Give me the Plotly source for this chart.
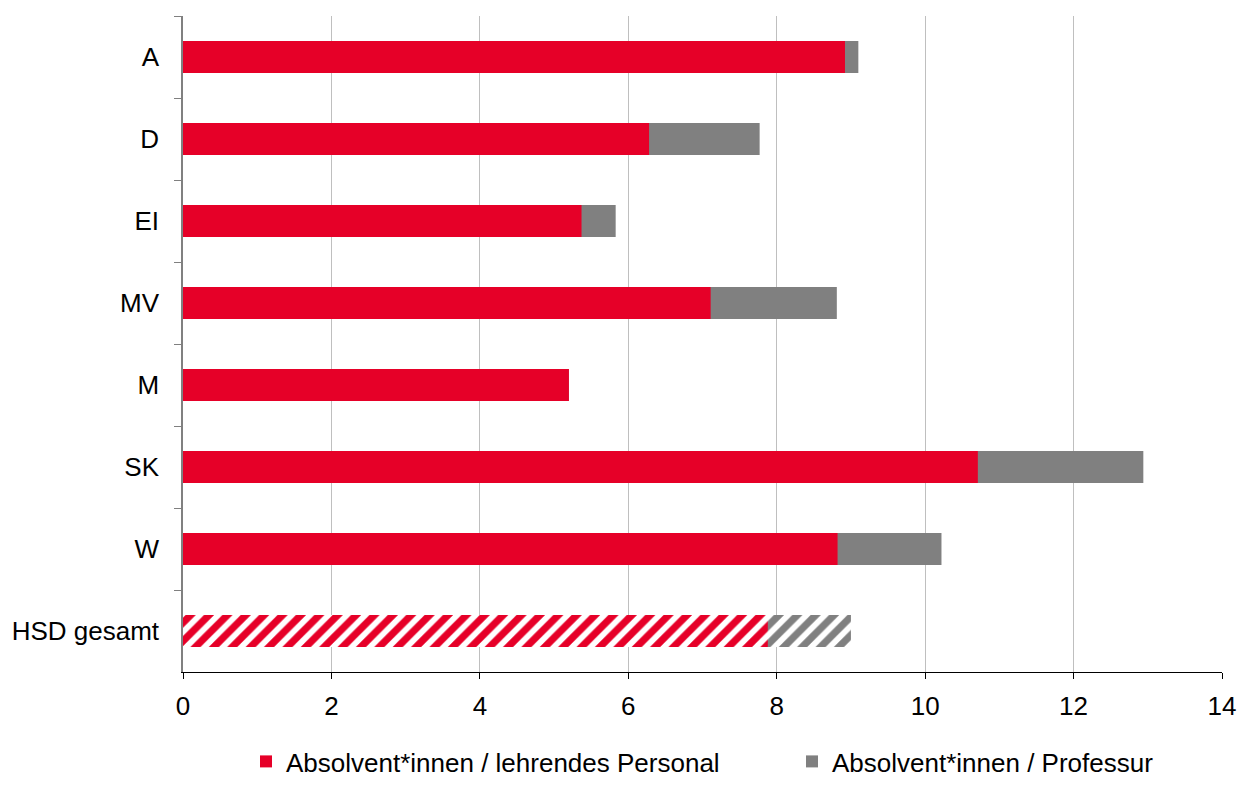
import plotly.graph_objects as go

categories = ["A", "D", "EI", "MV", "M", "SK", "W", "HSD gesamt"]
per_personal = [8.92, 6.28, 5.37, 7.11, 5.20, 10.71, 8.82, 7.88]
per_professur = [9.10, 7.77, 5.83, 8.81, 5.20, 12.94, 10.22, 9.00]
x_ticks = [0, 2, 4, 6, 8, 10, 12, 14]

RED = "#E60028"
GREY = "#808080"
FONT = "Liberation Sans, Arial, sans-serif"

shapes = ["" if c != "HSD gesamt" else "/" for c in categories]

fig = go.Figure()
fig.add_trace(go.Bar(
    y=categories, x=per_professur, orientation="h",
    name="Absolvent*innen / Professur",
    marker=dict(color=GREY, line=dict(width=0),
                pattern=dict(shape=shapes, fgcolor=GREY, bgcolor="white",
                             fgopacity=1, size=13, solidity=0.55)),
    width=0.39, legend="legend2",
))
fig.add_trace(go.Bar(
    y=categories, x=per_personal, orientation="h",
    name="Absolvent*innen / lehrendes Personal",
    marker=dict(color=RED, line=dict(width=0),
                pattern=dict(shape=shapes, fgcolor=RED, bgcolor="white",
                             fgopacity=1, size=13, solidity=0.55)),
    width=0.39, legend="legend",
))

W, H = 1240, 785
PLOT_L, PLOT_R, PLOT_T, PLOT_B = 183, 1222, 16, 672
pw = PLOT_R - PLOT_L
ph = PLOT_B - PLOT_T

def px_x(p):
    return (p - PLOT_L) / pw

def px_y(p):
    return (PLOT_B - p) / ph

legend_common = dict(orientation="h", yanchor="bottom", xanchor="left",
                     font=dict(size=26), bgcolor="rgba(0,0,0,0)", borderwidth=0)

fig.update_layout(
    barmode="overlay",
    showlegend=True,
    width=W, height=H,
    margin=dict(l=PLOT_L, r=W - PLOT_R, t=PLOT_T, b=H - PLOT_B, autoexpand=False),
    paper_bgcolor="white", plot_bgcolor="white",
    font=dict(family=FONT, size=26, color="#000000"),
    legend=dict(x=px_x(246), y=px_y(785), **legend_common),
    legend2=dict(x=px_x(792), y=px_y(785), **legend_common),
    xaxis=dict(range=[0, 14], tickvals=x_ticks, showgrid=True, gridcolor="#BFBFBF",
               gridwidth=1, zeroline=False, showline=True, linecolor="#000000",
               linewidth=1, ticks="outside", ticklen=6, tickcolor="#000000",
               tickfont=dict(size=26), ticklabelstandoff=5, automargin=False),
    yaxis=dict(categoryorder="array", categoryarray=categories, autorange="reversed",
               showgrid=False, zeroline=False, showline=True, linecolor="#808080",
               linewidth=1.5, ticks="outside", ticklen=7, tickcolor="#808080",
               tickson="boundaries", ticklabelstandoff=17, tickfont=dict(size=26),
               automargin=False),
)

fig.write_html(
    "out.html",
    config={"displayModeBar": False},
    post_script="document.body.style.margin='0';document.body.style.overflow='hidden';",
)
